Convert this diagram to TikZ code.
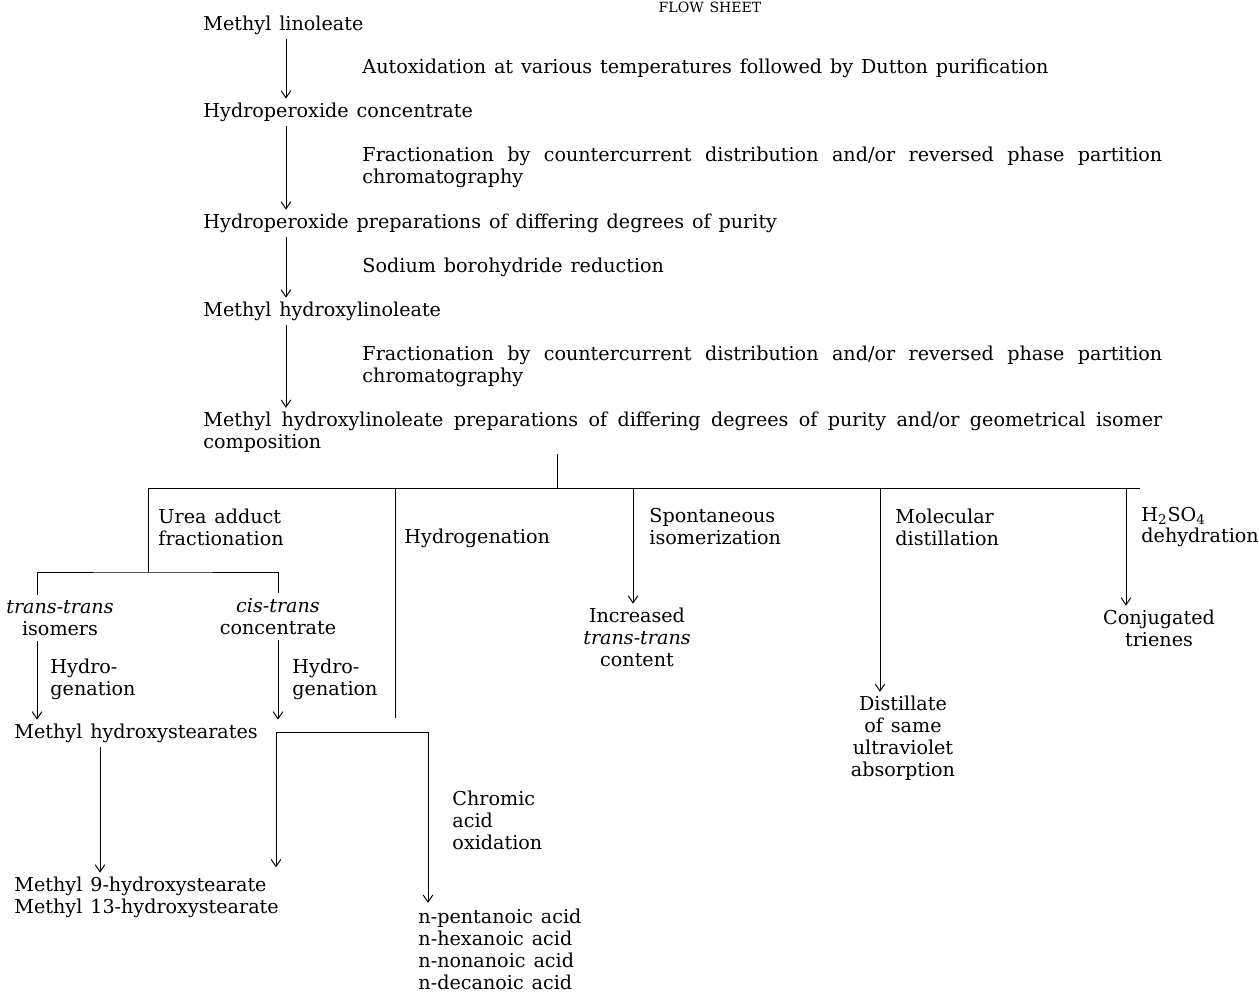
\documentclass[tikz,border=0pt]{standalone}
\usepackage{fontspec}
\setmainfont[WordSpace=1.3]{DejaVu Serif}
\usetikzlibrary{arrows.meta}

\begin{document}
\begin{tikzpicture}[x=0.02cm, y=-0.02cm, line width=0.55pt,
    >={Straight Barb[length=4pt,width=5.5pt]},
    every node/.style={inner sep=0pt, font=\fontsize{10.9}{12.5}\selectfont},
    txt/.style={anchor=west, align=left},
    res/.style={align=center},
    lab/.style={right, xshift=1.52cm, align=left},
    wide/.style={text width=16cm, align=justify},
    arr/.style={->, shorten <=2.5pt, shorten >=2pt}]
    \useasboundingbox (0,0) rectangle (1259,994);

    \node[anchor=base] (title) at (710,12) {\fontsize{8}{9}\selectfont FLOW SHEET};

    % main sequence
    \node[txt] (ml) at (203,25) {Methyl linoleate};
    \node[txt] (hc) at (203,112) {Hydroperoxide concentrate};
    \node[txt] (hp) at (203,223) {Hydroperoxide preparations of differing degrees of purity};
    \node[txt] (mh) at (203,311) {Methyl hydroxylinoleate};
    \node[anchor=west, text width=19.18cm, align=justify] (comp) at (203,432) {Methyl hydroxylinoleate preparations of differing degrees of purity and/or geometrical isomer\linebreak composition};
    \coordinate (spine) at (286,0);

    \draw[arr] (ml.south -| spine) -- node[lab] (l1) {Autoxidation at various temperatures followed by Dutton purification} (hc.north -| spine);
    \draw[arr] (hc.south -| spine) -- node[lab, wide] (l2) {Fractionation by countercurrent distribution and/or reversed phase partition\linebreak chromatography} (hp.north -| spine);
    \draw[arr] (hp.south -| spine) -- node[lab] (l3) {Sodium borohydride reduction} (mh.north -| spine);
    \draw[arr] (mh.south -| spine) -- node[lab, wide] (l4) {Fractionation by countercurrent distribution and/or reversed phase partition\linebreak chromatography} (comp.north -| spine);

    % branching bar
    \coordinate (hub) at (557,488);
    \coordinate (barL) at (148,488);
    \coordinate (barR) at (1140,488);
    \draw[shorten <=1pt] (comp.south -| hub) -- (hub);
    \draw (barL) -- (barR);

    % urea adduct fractionation
    \coordinate (urea) at (148,572);
    \coordinate (ttx) at (37,0);
    \draw (barL) -- (urea);
    \node[txt] (ureal) at (158,527) {Urea adduct\\fractionation};
    \node[res] (tt) at (60,618) {\textit{trans-trans}\\isomers};
    \node[res] (ct) at (278,617) {\textit{cis-trans}\\concentrate};
    \draw[shorten <=3pt, shorten >=3pt] (ttx |- tt.north) |- (urea) -| (ct.north);
    \node[txt] (mhs) at (14,733) {Methyl hydroxystearates};
    \draw[arr] (ttx |- tt.south) -- node[right, xshift=0.26cm, align=left] (hg1) {Hydro-\\genation} (ttx |- mhs.north);
    \draw[arr] (ct.south) -- node[right, xshift=0.28cm, align=left] (hg2) {Hydro-\\genation} (ct.south |- mhs.north);

    % hydrogenation
    \coordinate (hydx) at (395,488);
    \node[txt] (hydl) at (404,538) {Hydrogenation};
    \draw[shorten >=3pt] (hydx) -- (hydx |- mhs.north);

    % products of the hydroxystearates
    \coordinate (brL) at (276,732);
    \coordinate (brR) at (428,732);
    \coordinate (mx) at (100,0);
    \node[txt] (m9) at (14,897) {Methyl 9-hydroxystearate\\Methyl 13-hydroxystearate};
    \node[txt] (acids) at (418,949) {n-pentanoic acid\\n-hexanoic acid\\n-nonanoic acid\\n-decanoic acid};
    \draw[arr] (mx |- mhs.south) -- (mx |- m9.north);
    \draw[->, shorten >=5pt] (brL) -- (brL |- m9.north);
    \draw[->, shorten >=3pt] (brL) -- (brR) -- node[right, xshift=0.48cm, align=left] (cao) {Chromic\\acid\\oxidation} (brR |- acids.north);

    % spontaneous isomerization
    \coordinate (spx) at (633,488);
    \node[txt] (spl) at (649,527) {Spontaneous\\isomerization};
    \node[res] (inc) at (637,637) {Increased\\\textit{trans-trans}\\content};
    \draw[->, shorten >=2pt] (spx) -- (spx |- inc.north);

    % molecular distillation
    \coordinate (mdx) at (880,488);
    \node[txt] (mdl) at (895,527) {Molecular\\distillation};
    \node[res] (dist) at (903,738) {Distillate\\of same\\ultraviolet\\absorption};
    \draw[->, shorten >=2pt] (mdx) -- (mdx |- dist.north);

    % dehydration
    \coordinate (dhx) at (1126,488);
    \node[txt] (dhl) at (1141,527) {H\textsubscript{2}SO\textsubscript{4}\\dehydration};
    \node[res] (conj) at (1159,628) {Conjugated\\trienes};
    \draw[->, shorten >=2pt] (dhx) -- (dhx |- conj.north);
\end{tikzpicture}
\end{document}
